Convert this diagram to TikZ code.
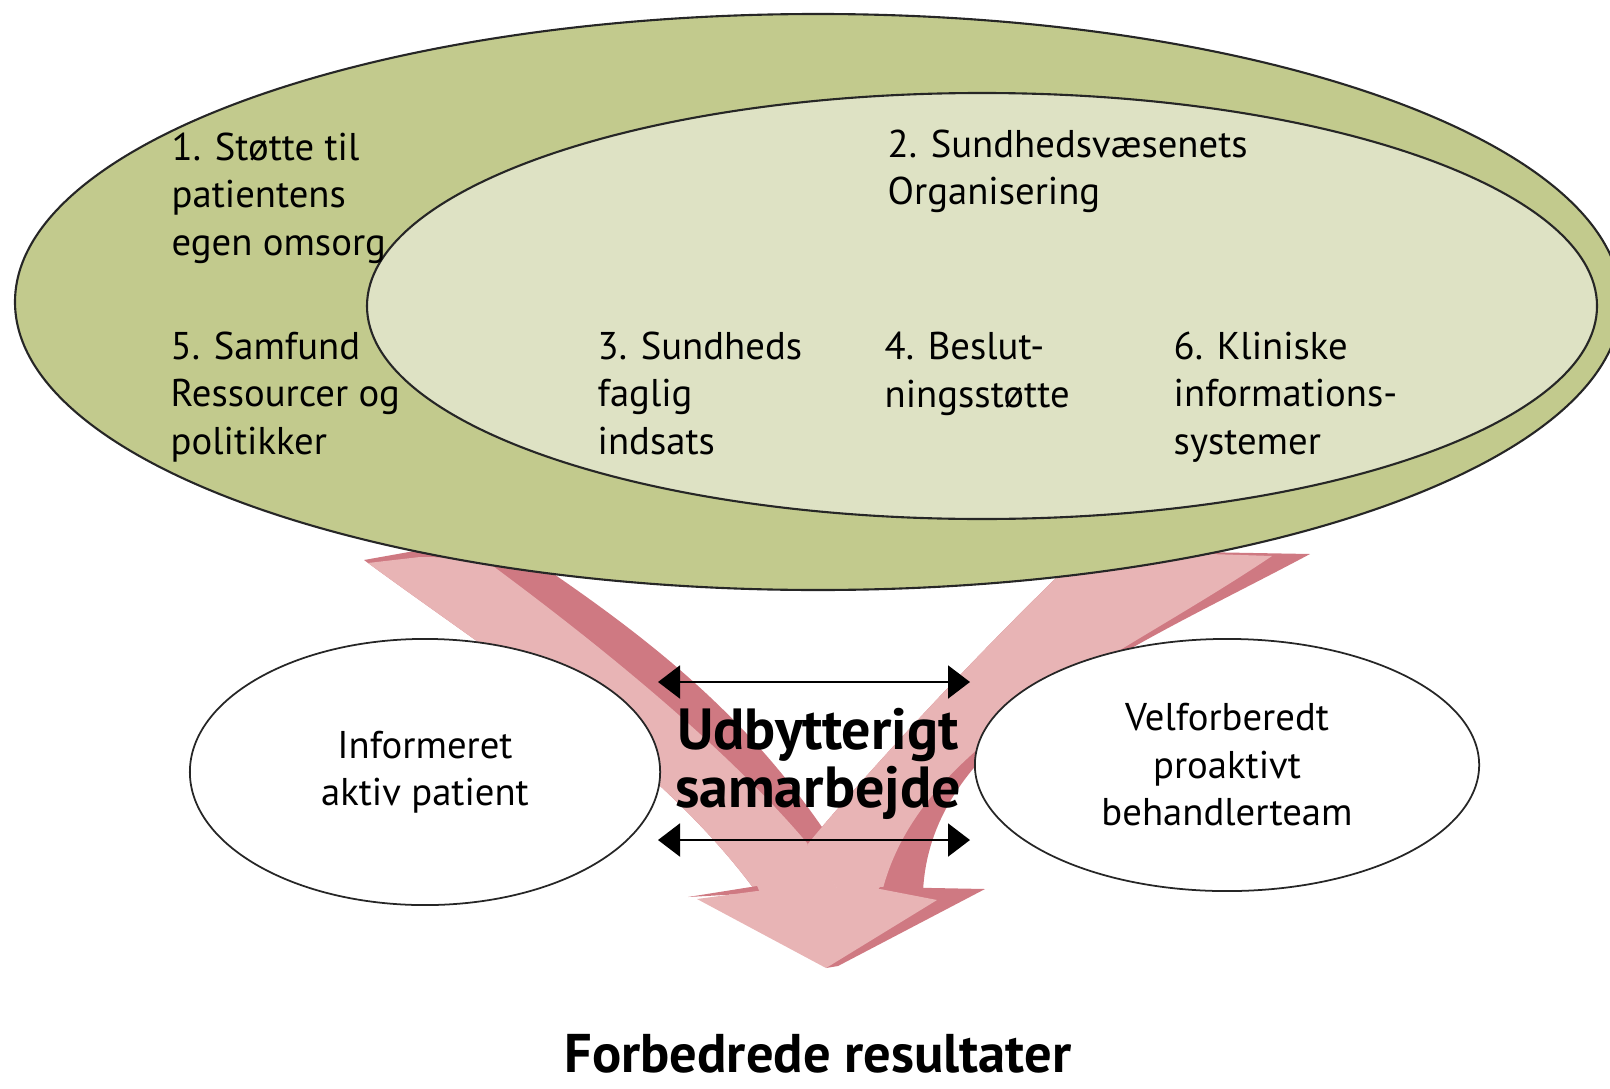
\documentclass[tikz,border=0pt]{standalone}
\usepackage{fontspec}
\setmainfont{PT Sans}
\usetikzlibrary{shapes.geometric, arrows.meta}

\definecolor{outergreen}{RGB}{194,202,141}
\definecolor{innergreen}{RGB}{222,226,196}
\definecolor{pinklight}{RGB}{232,180,181}
\definecolor{pinkdark}{RGB}{207,121,130}

\begin{document}
\begin{tikzpicture}[x=0.01cm, y=-0.01cm,
	ring/.style={draw=black!85, line width=0.6pt},
	party/.style={ellipse, draw=black!85, line width=0.5pt, fill=white, align=center, inner sep=0pt, font=\fontsize{11}{13.5}\selectfont},
	area/.style={anchor=base west, align=left, inner sep=0pt, font=\fontsize{11}{13.5}\selectfont},
	link/.style={{Triangle[length=0.22cm,width=0.33cm]}-{Triangle[length=0.22cm,width=0.33cm]}, line width=0.6pt}]
	\useasboundingbox (0,0) rectangle (1610,1088);

	% V-formed arrow behind everything
	\fill[pinkdark] (364,560) -- (420,550) -- (560,550) -- (545,568) .. controls (680,660) and (770,740) .. (850,870) -- (757,893) .. controls (660,760) and (500,660) .. (364,560) -- cycle;
	\fill[pinklight] (368,563) -- (420,557) -- (482,558) .. controls (580,630) and (720,740) .. (807,843) -- (845,900) -- (757,893) .. controls (660,760) and (500,660) .. (368,563) -- cycle;
	\fill[pinkdark] (1085,550) -- (1310,554) .. controls (1130,650) and (930,730) .. (923,892) -- (880,892) -- (807,845) .. controls (860,780) and (975,655) .. (1085,550) -- cycle;
	\fill[pinklight] (1085,550) -- (1272,556) .. controls (1110,665) and (920,740) .. (882,892) -- (845,900) -- (807,845) .. controls (860,780) and (975,655) .. (1085,550) -- cycle;
	\fill[pinkdark] (688,897) -- (757,886) -- (760,893) -- cycle;
	\fill[pinkdark] (880,887) -- (985,889) -- (838,966) -- (826,968) -- cycle;
	\fill[pinklight] (697,899) -- (757,891) -- (880,889) -- (937,900) -- (826,968) -- cycle;

	\node[party, minimum width=4.7cm, minimum height=2.66cm] (pat) at (425,772) {Informeret\\aktiv patient};
	\node[party, minimum width=5.04cm, minimum height=2.52cm] (team) at (1227,765) {Velforberedt\\proaktivt\\behandlerteam};

	\draw[ring, fill=outergreen] (818,302) ellipse [x radius=803, y radius=288];
	\draw[ring, fill=innergreen] (982,306) ellipse [x radius=615, y radius=213];

	\node[area] (s1) at (171,255) {1. Støtte til\\patientens\\egen omsorg};
	\node[area] (s5) at (170,454) {5. Samfund\\Ressourcer og\\politikker};
	\node[area] (s2) at (887,205) {2. Sundhedsvæsenets\\Organisering};
	\node[area] (s3) at (597,454) {3. Sundheds\\faglig\\indsats};
	\node[area] (s4) at (884,407) {4. Beslut-\\ningsstøtte};
	\node[area] (s6) at (1173,454) {6. Kliniske\\informations-\\systemer};

	\node[align=center, inner sep=0pt, font=\fontsize{16.5}{16.5}\selectfont\bfseries] (collab) at (818,764) {Udbytterigt\\samarbejde};
	\coordinate (ul) at (658,682);
	\coordinate (ur) at (970,682);
	\coordinate (ll) at (658,840);
	\coordinate (lr) at (970,840);
	\draw[link] (ul) -- (ur);
	\draw[link] (ll) -- (lr);

	\node[anchor=base, inner sep=0pt, font=\fontsize{15.5}{17}\selectfont\bfseries] (result) at (818,1072) {Forbedrede resultater};
\end{tikzpicture}
\end{document}
